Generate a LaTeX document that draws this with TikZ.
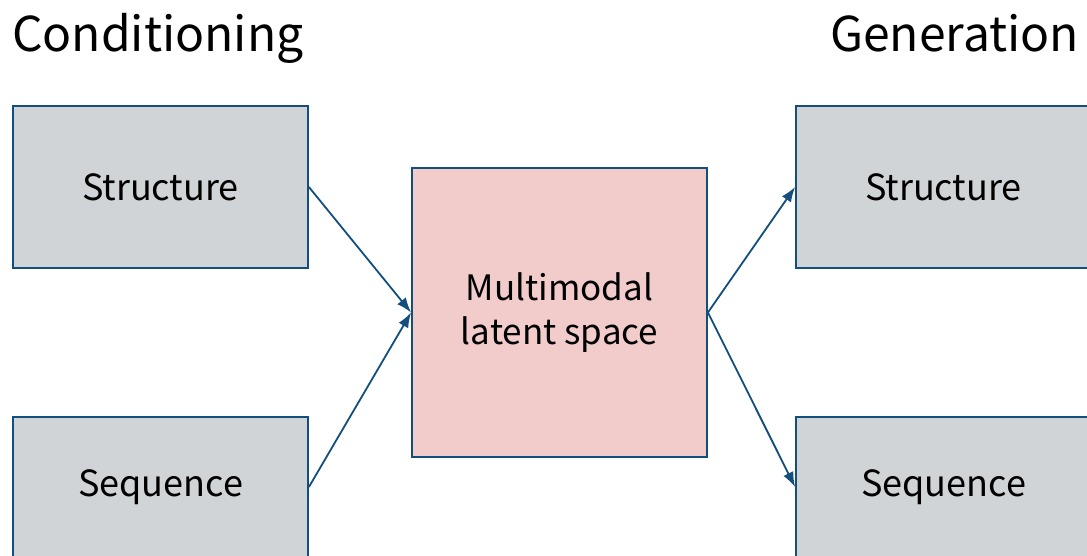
\documentclass[tikz,border=0pt]{standalone}
\usepackage{fontspec}
\setmainfont{Noto Sans CJK JP}
\usetikzlibrary{arrows.meta}
\definecolor{edgeblue}{RGB}{18,78,126}
\definecolor{boxgray}{RGB}{208,212,214}
\definecolor{latentpink}{RGB}{242,203,203}
\tikzset{
  x=1pt, y=1pt,
  modbox/.style={draw=edgeblue, line width=1.8pt, fill=boxgray,
    minimum width=295pt, minimum height=162pt, inner sep=0pt,
    font=\fontsize{36}{40}\selectfont},
  lowbox/.style={modbox, minimum height=140pt},
  latentbox/.style={draw=edgeblue, line width=1.8pt, fill=latentpink,
    minimum width=295pt, minimum height=289pt, inner sep=0pt, align=center,
    font=\fontsize{35}{44}\selectfont},
  heading/.style={anchor=base west, inner sep=0pt, font=\fontsize{48}{54}\selectfont},
  flow/.style={draw=edgeblue, line width=1.8pt, -{Latex[length=15pt,width=11pt]}}
}
\begin{document}
\begin{tikzpicture}
\useasboundingbox (0,0) rectangle (1087,555);
\clip (0,0) rectangle (1087,555);
\node[heading] (condtitle) at (12,503) {Conditioning};
\node[heading] (gentitle) at (830,503) {Generation};
\node[modbox] (cstruct) at (160.5,368) {Structure};
\node[lowbox] (cseq) at (160.5,68) {Sequence};
\node[latentbox] (latent) at (559.5,242.5) {Multimodal\\latent space};
\node[modbox] (gstruct) at (943.5,368) {Structure};
\node[lowbox] (gseq) at (943.5,68) {Sequence};
\draw[flow] (cstruct.east) -- (latent.west);
\draw[flow] (cseq.east) -- (latent.west);
\draw[flow] (latent.east) -- (gstruct.west);
\draw[flow] (latent.east) -- (gseq.west);
\end{tikzpicture}
\end{document}
